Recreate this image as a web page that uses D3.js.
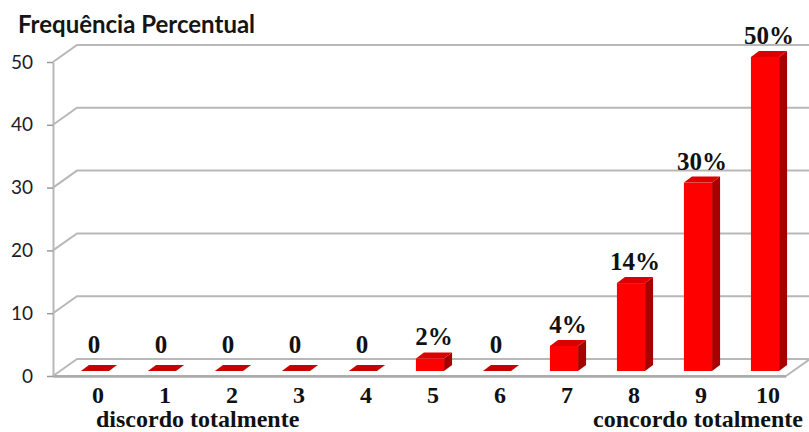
<!DOCTYPE html>
<html>
<head>
<meta charset="utf-8">
<script src="https://cdn.jsdelivr.net/npm/d3@7"></script>
<style>
  html, body { margin: 0; padding: 0; background: #fff; }
  svg { display: block; }
</style>
</head>
<body>
<svg id="chart" width="809" height="432"></svg>
<script>
// Survey scale 0..10 and percentage of answers for each point
const categories = ["0", "1", "2", "3", "4", "5", "6", "7", "8", "9", "10"];
const values = [0, 0, 0, 0, 0, 2, 0, 4, 14, 30, 50];
const valueLabels = ["0", "0", "0", "0", "0", "2%", "0", "4%", "14%", "30%", "50%"];
const yTicks = [0, 10, 20, 30, 40, 50];
const yTitle = "Frequência Percentual";
const leftNote = "discordo totalmente";
const rightNote = "concordo totalmente";

const svg = d3.select("#chart");
const W = 809;

// Oblique 3-D projection: depth of the wall/floor and of each bar
const wallDepth = { dx: 24, dy: -17 };
const barDepth = { dx: 8, dy: -6 };
const barLift = -5;          // bars stand a little behind the front edge of the floor

const axisX = 53;
const y = d3.scaleLinear().domain([0, 50]).range([376, 62]);

const x = d3.scaleBand()
  .domain(categories)
  .range([61.5, 798.5])
  .paddingInner(0.58)
  .paddingOuter(0.29);

const gridColor = "#b8b8b8";

// Back wall gridlines (with the diagonal going back from the axis)
const grid = svg.append("g");
yTicks.filter(t => t > 0).forEach(t => {
  const yy = y(t);
  grid.append("path")
    .attr("d", `M${axisX},${yy} L${axisX + wallDepth.dx},${yy + wallDepth.dy} L${W + 5},${yy + wallDepth.dy}`)
    .attr("fill", "none")
    .attr("stroke", gridColor)
    .attr("stroke-width", 2);
});

// Floor
const y0 = y(0);
const floorRight = 786;
svg.append("path")
  .attr("d", `M${axisX},${y0} L${axisX + wallDepth.dx},${y0 + wallDepth.dy} L${floorRight + wallDepth.dx},${y0 + wallDepth.dy} L${floorRight},${y0} Z`)
  .attr("fill", "#fff")
  .attr("stroke", gridColor)
  .attr("stroke-width", 2)
  .attr("stroke-linejoin", "round");
svg.append("line")
  .attr("x1", axisX).attr("x2", floorRight)
  .attr("y1", y0 + 0.5).attr("y2", y0 + 0.5)
  .attr("stroke", "#aaaaaa").attr("stroke-width", 2.5);

// Vertical axis with tick labels
const yAxis = d3.axisLeft(y)
  .tickValues(yTicks)
  .tickSize(6)
  .tickSizeOuter(0)
  .tickPadding(14);
const gAxis = svg.append("g")
  .attr("transform", `translate(${axisX},0)`)
  .call(yAxis);
gAxis.select(".domain").attr("stroke", gridColor).attr("stroke-width", 2);
gAxis.selectAll(".tick line").attr("stroke", "#9a9a9a").attr("stroke-width", 1.5);
gAxis.selectAll(".tick text")
  .attr("fill", "#1c1c2a")
  .style("font-family", "Lato, 'Liberation Sans', sans-serif")
  .style("font-size", "19px");

// Axis title
svg.append("text")
  .attr("x", 18).attr("y", 33)
  .attr("fill", "#151515")
  .style("font-family", "Lato, 'Liberation Sans', sans-serif")
  .style("font-weight", "bold")
  .style("font-size", "24px")
  .text(yTitle);

// Bars
const yb = v => y(v) + barLift;
const bw = x.bandwidth();
const bars = svg.append("g");
categories.forEach((c, i) => {
  const v = values[i];
  const x0 = x(c), x1 = x0 + bw;
  const top = yb(v), base = yb(0);
  const { dx, dy } = barDepth;
  if (v > 0) {
    // side face
    bars.append("path")
      .attr("d", `M${x1},${base} L${x1 + dx},${base + dy} L${x1 + dx},${top + dy} L${x1},${top} Z`)
      .attr("fill", "#a80000");
    // front face
    bars.append("rect")
      .attr("x", x0).attr("y", top)
      .attr("width", bw).attr("height", base - top)
      .attr("fill", "#ff0000");
  }
  // top face
  bars.append("path")
    .attr("d", `M${x0},${top} L${x1},${top} L${x1 + dx},${top + dy} L${x0 + dx},${top + dy} Z`)
    .attr("fill", v > 0 ? "#dd0000" : "#c80000");
});

// Value labels above the bars
const serif = "'Liberation Serif', 'Times New Roman', serif";
svg.append("g").selectAll("text")
  .data(categories)
  .join("text")
  .attr("x", (c, i) => x(c) + bw / 2 + (values[i] === 0 ? -1 : barDepth.dx / 2))
  .attr("y", (c, i) => yb(values[i]) + barDepth.dy - (values[i] === 0 ? 12 : 7))
  .attr("text-anchor", "middle")
  .attr("fill", "#111")
  .style("font-family", serif)
  .style("font-weight", "bold")
  .style("font-size", "25px")
  .text((c, i) => valueLabels[i]);

// Category labels
svg.append("g").selectAll("text")
  .data(categories)
  .join("text")
  .attr("x", c => x(c) + bw / 2 + 3)
  .attr("y", 403)
  .attr("text-anchor", "middle")
  .attr("fill", "#111")
  .style("font-family", serif)
  .style("font-weight", "bold")
  .style("font-size", "24px")
  .text(c => c);

svg.append("text")
  .attr("x", 96).attr("y", 427)
  .attr("fill", "#111")
  .style("font-family", serif)
  .style("font-weight", "bold")
  .style("font-size", "24px")
  .text(leftNote);

svg.append("text")
  .attr("x", 803).attr("y", 427)
  .attr("text-anchor", "end")
  .attr("fill", "#111")
  .style("font-family", serif)
  .style("font-weight", "bold")
  .style("font-size", "24px")
  .text(rightNote);
</script>
</body>
</html>
